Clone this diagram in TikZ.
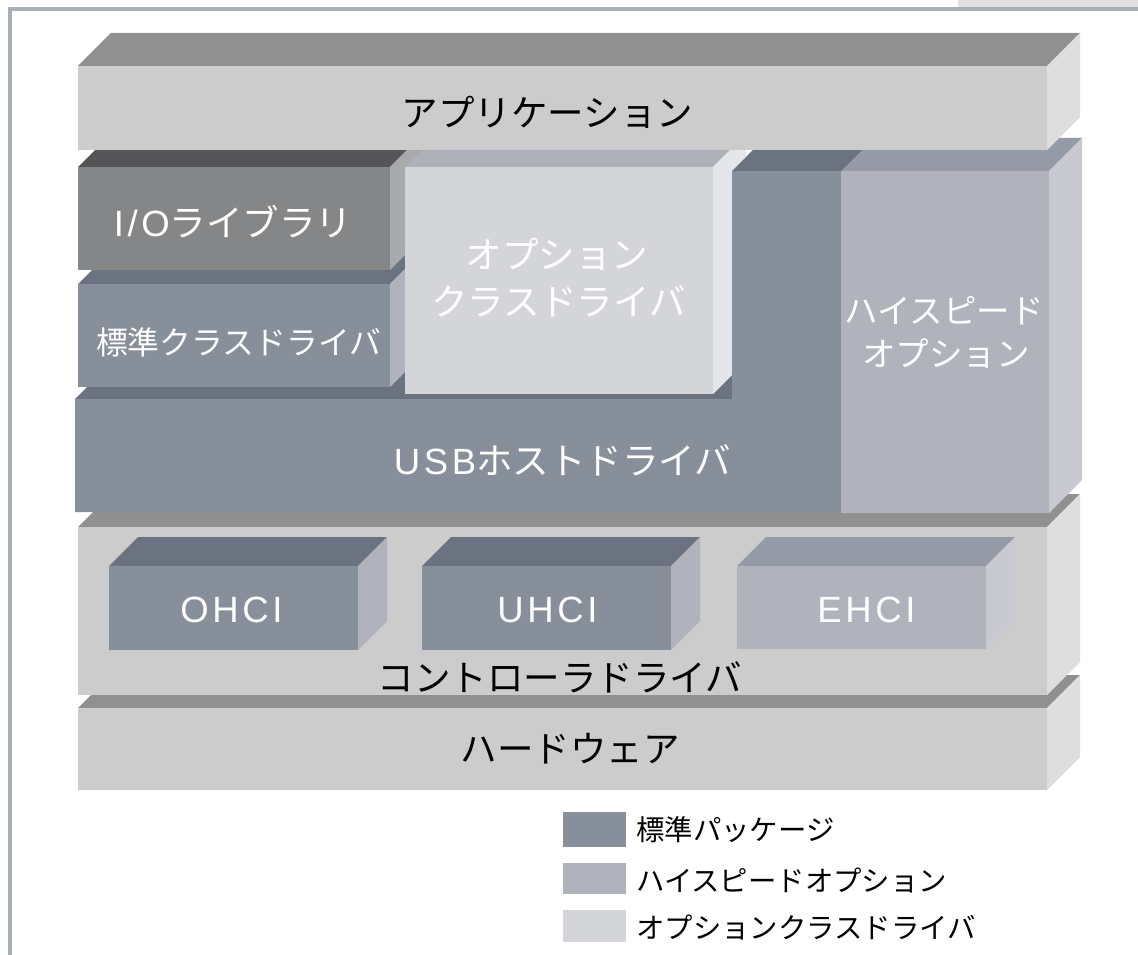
\documentclass[tikz,border=0pt]{standalone}
\usepackage{fontspec}
\setmainfont{Noto Sans CJK JP}
\newfontfamily\latf[LetterSpace=10]{Liberation Sans}
\newcommand\lat[1]{{\latf #1}}
\definecolor{gTop}{HTML}{909090}
\definecolor{gFront}{HTML}{CCCCCC}
\definecolor{gSide}{HTML}{DEDEDE}
\definecolor{sTop}{HTML}{6B7280}
\definecolor{sFront}{HTML}{878F9A}
\definecolor{sSide}{HTML}{B0B3BC}
\definecolor{hTop}{HTML}{959BA6}
\definecolor{hFront}{HTML}{B0B3BC}
\definecolor{hSide}{HTML}{C8C9D1}
\definecolor{oTop}{HTML}{AEB0B8}
\definecolor{oFront}{HTML}{D4D5D9}
\definecolor{oSide}{HTML}{E4E6E9}
\definecolor{iTop}{HTML}{555558}
\definecolor{iFront}{HTML}{858688}
\definecolor{iSide}{HTML}{A9AAAC}
\definecolor{frameC}{HTML}{A9AFB8}
\definecolor{tabC}{HTML}{E0E0E0}
% #1 x1, #2 y1 (front top), #3 x2, #4 y2 (front bottom), #5 depth, #6 top, #7 front, #8 side
\newcommand\myblock[8]{%
  \fill[#6] (#1,#2) -- ++(#5,-#5) -- (#3+#5,#2-#5) -- (#3,#2) -- cycle;
  \fill[#8] (#3,#2) -- ++(#5,-#5) -- (#3+#5,#4-#5) -- (#3,#4) -- cycle;
  \fill[#7] (#1,#2) rectangle (#3,#4);
}
\tikzset{
  lbl/.style={inner sep=0pt, font=\fontsize{36.5}{44}\selectfont},
  wlbl/.style={lbl, text=white},
  leg/.style={inner sep=0pt, font=\fontsize{28.4}{34}\selectfont, anchor=west}
}
\begin{document}
\begin{tikzpicture}[x=1pt,y=-1pt]
\useasboundingbox (0,0) rectangle (1138,955);
\fill[white] (0,0) rectangle (1138,955);
% frame
\fill[tabC] (958,0) rectangle (1138,7.5);
\draw[frameC, line width=4pt] (9.5,955) -- (9.5,9.5) -- (1138,9.5);
% hardware
\myblock{78}{708}{1047}{790}{33}{gTop}{gFront}{gSide}
% controller driver
\myblock{78}{527}{1047}{695}{33}{gTop}{gFront}{gSide}
\myblock{109}{566}{358}{650}{29}{sTop}{sFront}{sSide}
\myblock{422}{566}{671}{650}{29}{sTop}{sFront}{sSide}
\myblock{737}{566}{986}{649}{29}{hTop}{hFront}{hSide}
% USB host driver (L-shaped)
\fill[sTop] (75,399) -- (108,366) -- (765,366) -- (732,399) -- cycle;
\fill[sFront] (75,399) -- (732,399) -- (732,171) -- (841,171) -- (841,512) -- (75,512) -- cycle;
\fill[sTop] (732,171) -- (765,138) -- (874,138) -- (841,171) -- cycle;
% high speed option
\myblock{841}{171}{1049}{513}{33}{hTop}{hFront}{hSide}
% standard class driver
\myblock{78}{284}{390}{387}{33}{sTop}{sFront}{sSide}
% I/O library
\myblock{78}{167}{390}{270}{33}{iTop}{iFront}{iSide}
% option class driver
\myblock{405}{167}{713}{394}{33}{oTop}{oFront}{oSide}
% USB column in front of option side
\fill[sFront] (732,171) rectangle (841,512);
\fill[sTop] (732,171) -- (765,138) -- (874,138) -- (841,171) -- cycle;
% application
\myblock{78}{66}{1047}{150}{33}{gTop}{gFront}{gSide}

% labels
\node[lbl] (app) at (547.5,112) {アプリケーション};
\node[wlbl] (io) at (233,222) {\lat{I/O}ライブラリ};
\node[wlbl, font=\fontsize{31.8}{38}\selectfont] (std) at (238.5,342) {標準クラスドライバ};
\node[wlbl] (optA) at (557,254) {オプション};
\node[wlbl] (optB) at (558.5,301) {クラスドライバ};
\node[wlbl, font=\fontsize{33.5}{40}\selectfont] (hsA) at (944,311) {ハイスピード};
\node[wlbl, font=\fontsize{33.5}{40}\selectfont] (hsB) at (946,354) {オプション};
\node[wlbl] (usb) at (562.5,460) {\lat{USB}ホストドライバ};
\node[wlbl] (ohci) at (231.5,610) {\lat{OHCI}};
\node[wlbl] (uhci) at (547.5,610) {\lat{UHCI}};
\node[wlbl] (ehci) at (866.5,610) {\lat{EHCI}};
\node[lbl] (ctrl) at (560,677) {コントローラドライバ};
\node[lbl] (hw) at (570,749) {ハードウェア};

% legend
\fill[sFront] (563,812) rectangle (626,847);
\fill[hFront] (563,863) rectangle (626,894);
\fill[oFront] (563,910) rectangle (626,942);
\node[leg] (legA) at (636,830) {標準パッケージ};
\node[leg] (legB) at (636,880) {ハイスピードオプション};
\node[leg] (legC) at (636,927) {オプションクラスドライバ};
\end{tikzpicture}
\end{document}
